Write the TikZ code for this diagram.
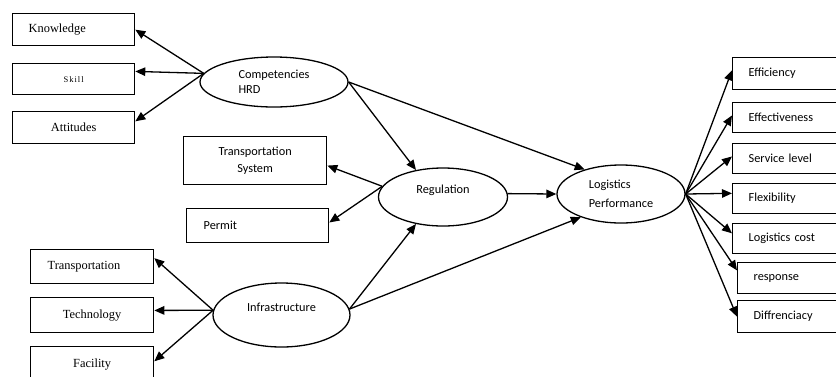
\documentclass[tikz,border=0pt]{standalone}
\usepackage{fontspec}
\setmainfont{Liberation Serif}
\newfontfamily\calfont{Carlito}
\newfontfamily\spacedfont[LetterSpace=12]{Liberation Serif}
\usetikzlibrary{arrows.meta,shapes.geometric,calc}
\begin{document}
\begin{tikzpicture}[x=1pt,y=-1pt,
  box/.style={draw,line width=1.3pt,rectangle,anchor=north west,inner ysep=0pt},
  tbox/.style={box,font=\fontsize{12.4}{14.5}\selectfont},
  cbox/.style={box,font=\calfont\fontsize{12.3}{14.5}\selectfont},
  oval/.style={draw,line width=1.3pt,ellipse,inner sep=0pt,anchor=center,font=\calfont\fontsize{12.3}{14.5}\selectfont},
  arr/.style={line width=1.3pt,-{Triangle[length=10pt,width=8.5pt]}}
]
\useasboundingbox (0,0) rectangle (836,376);
\clip (0,0) rectangle (836,376);

% left top boxes
\node[tbox,minimum width=122pt,minimum height=32pt,text width=90pt,inner xsep=16pt,align=left] (know) at (12,13) {Knowledge};
\node[tbox,minimum width=122pt,minimum height=31pt,text width=122pt,inner xsep=0pt,align=center] (skill) at (12,63) {\spacedfont\fontsize{8.5}{10}\selectfont Skill};
\node[tbox,minimum width=122pt,minimum height=32pt,text width=122pt,inner xsep=0pt,align=center] (att) at (12,111) {Attitudes};

% middle boxes
\node[cbox,minimum width=143pt,minimum height=48pt,text width=143pt,inner xsep=0pt,align=center] (ts) at (183,136) {Transportation\\[2pt]System};
\node[cbox,minimum width=142pt,minimum height=34pt,text width=108pt,inner xsep=17pt,align=left] (permit) at (186,208) {Permit};

% left bottom boxes
\node[tbox,minimum width=123pt,minimum height=34pt,text width=89pt,inner xsep=17pt,align=left] (trans) at (30,249) {Transportation};
\node[tbox,minimum width=123pt,minimum height=35pt,text width=123pt,inner xsep=0pt,align=center] (tech) at (30,297) {Technology};
\node[tbox,minimum width=123pt,minimum height=36pt,text width=123pt,inner xsep=0pt,align=center] (fac) at (30,346) {Facility};

% right boxes (running off the right edge)
\node[cbox,minimum width=130pt,minimum height=32pt,text width=98pt,inner xsep=16pt,align=left] (eff) at (732,57) {Efficiency};
\node[cbox,minimum width=130pt,minimum height=30pt,text width=98pt,inner xsep=16pt,align=left] (efv) at (732,102) {Effectiveness};
\node[cbox,minimum width=130pt,minimum height=30pt,text width=98pt,inner xsep=16pt,align=left] (svc) at (732,143) {Service level};
\node[cbox,minimum width=130pt,minimum height=30pt,text width=98pt,inner xsep=16pt,align=left] (flex) at (732,183) {Flexibility};
\node[cbox,minimum width=130pt,minimum height=30pt,text width=98pt,inner xsep=16pt,align=left] (lc) at (732,223) {Logistics cost};
\node[cbox,minimum width=125pt,minimum height=31pt,text width=93pt,inner xsep=16pt,align=left] (resp) at (737,262) {response};
\node[cbox,minimum width=125pt,minimum height=32pt,text width=93pt,inner xsep=16pt,align=left] (diff) at (737,300) {Diffrenciacy};

% ellipses
\node[oval,minimum width=148pt,minimum height=50pt,align=left] (comp) at (274,82) {Competencies\\HRD};
\node[oval,minimum width=129pt,minimum height=58pt] (reg) at (443,197) {\smash{\raisebox{4pt}{Regulation}}\hspace{12pt}};
\node[oval,minimum width=137pt,minimum height=64pt] (infra) at (281.5,315) {\smash{\raisebox{4pt}{Infrastructure}}};
\node[oval,minimum width=128pt,minimum height=58pt,align=left] (lp) at (621,194) {Logistics\\[4pt]Performance};

% arrows
\draw[arr] (comp.173) -- (know.east);
\draw[arr] (comp.173) -- ($(skill.north east)!0.26!(skill.south east)$);
\draw[arr] (comp.173) -- ($(att.north east)!0.31!(att.south east)$);
\draw[arr] (comp.east) -- (reg.135);
\draw[arr] (comp.east) -- (lp.146);
\draw[arr] (reg.170) -- ($(ts.north east)!0.6!(ts.south east)$);
\draw[arr] (reg.170) -- ($(permit.north east)!0.41!(permit.south east)$);
\draw[arr] (reg.3) -- (lp.west);
\draw[arr] (infra.5) -- (reg.225);
\draw[arr] (infra.5) -- (lp.210);
\draw[arr] (infra.176) -- ($(trans.north east)!0.26!(trans.south east)$);
\draw[arr] (infra.176) -- ($(tech.north east)!0.37!(tech.south east)$);
\draw[arr] (infra.176) -- ($(fac.north east)!0.41!(fac.south east)$);
\draw[arr] (lp.east) -- ($(eff.north west)!0.4!(eff.south west)$);
\draw[arr] (lp.east) -- ($(efv.north west)!0.43!(efv.south west)$);
\draw[arr] (lp.east) -- ($(svc.north west)!0.43!(svc.south west)$);
\draw[arr] (lp.east) -- ($(flex.north west)!0.33!(flex.south west)$);
\draw[arr] (lp.east) -- ($(lc.north west)!0.33!(lc.south west)$);
\draw[arr] (lp.east) -- ($(resp.north west)!0.26!(resp.south west)$);
\draw[arr] (lp.east) -- ($(diff.north west)!0.5!(diff.south west)$);
\end{tikzpicture}
\end{document}
